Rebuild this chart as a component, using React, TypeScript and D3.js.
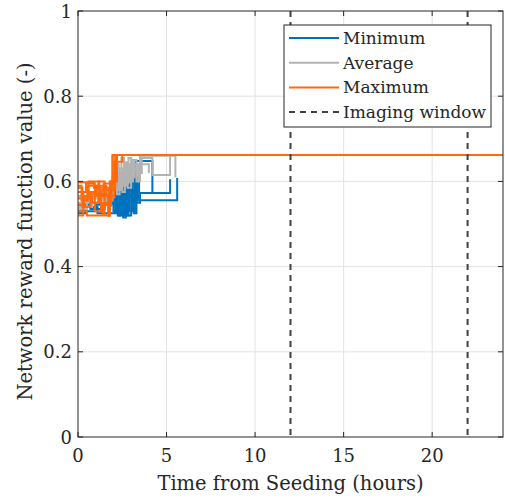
import React from 'react';
import * as d3 from 'd3';

// each run is a list of [hours, value] steps
const minRuns: [number, number][][] = [
  [[0, 0.545], [0.7, 0.535], [1.5, 0.55], [2.0, 0.53], [2.15, 0.6], [2.25, 0.52], [2.4, 0.615], [2.5, 0.525], [2.6, 0.6], [2.75, 0.53], [2.9, 0.62], [3.05, 0.535], [3.2, 0.61], [3.35, 0.55], [3.5, 0.573], [5.2, 0.605]],
  [[0, 0.565], [0.5, 0.55], [1.2, 0.56], [2.0, 0.545], [2.3, 0.52], [2.45, 0.59], [2.55, 0.515], [2.7, 0.61], [2.8, 0.52], [3.0, 0.6], [3.1, 0.53], [3.25, 0.648], [4.2, 0.575]],
  [[0, 0.53], [1.0, 0.545], [1.8, 0.555], [2.2, 0.58], [2.35, 0.53], [2.5, 0.565], [3.4, 0.556], [5.6, 0.608]],
  [[0, 0.525], [0.4, 0.54], [1.1, 0.525], [2.1, 0.56], [2.2, 0.525], [2.35, 0.595], [2.65, 0.52], [2.85, 0.58], [3.15, 0.525], [3.3, 0.6], [3.45, 0.56]],
];
const avgRuns: [number, number][][] = [
  [[0, 0.55], [0.6, 0.56], [1.4, 0.575], [1.9, 0.6], [2.1, 0.64], [2.3, 0.58], [2.45, 0.655], [2.6, 0.59], [2.75, 0.64], [2.9, 0.6], [3.1, 0.65], [3.3, 0.62], [3.6, 0.655], [4.2, 0.655], [4.2, 0.615], [5.2, 0.662]],
  [[0, 0.54], [0.8, 0.55], [1.6, 0.565], [2.0, 0.62], [2.2, 0.57], [2.35, 0.63], [2.5, 0.575], [2.65, 0.645], [2.8, 0.585], [3.0, 0.63], [3.3, 0.6], [3.5, 0.64], [4.0, 0.62]],
  [[0, 0.565], [1.0, 0.58], [1.9, 0.6], [2.2, 0.62], [2.6, 0.6], [3.0, 0.64], [3.5, 0.66], [5.5, 0.61]],
  [[0, 0.535], [0.5, 0.57], [1.3, 0.555], [1.95, 0.61], [2.15, 0.585], [2.4, 0.62], [2.55, 0.595], [2.85, 0.655], [3.0, 0.61], [3.2, 0.64], [3.4, 0.6]],
];
const maxRuns: [number, number][][] = [
  [[0, 0.598], [0.9, 0.585], [1.95, 0.662], [24, 0.662]],
  [[0, 0.52], [0.3, 0.575], [1.0, 0.59], [1.6, 0.565], [2.05, 0.646], [2.5, 0.646], [2.5, 0.662]],
  [[0, 0.56], [0.6, 0.6], [1.2, 0.55], [1.85, 0.58], [2.1, 0.662]],
  [[0, 0.53], [0.5, 0.52], [1.4, 0.545], [1.85, 0.6], [2.2, 0.662]],
  [[0, 0.585], [0.25, 0.54], [0.7, 0.57], [1.7, 0.52], [1.8, 0.6], [1.95, 0.662]],
  [[0, 0.575], [0.45, 0.595], [0.95, 0.53], [1.3, 0.58], [1.75, 0.555], [1.9, 0.6]],
  [[0, 0.545], [0.35, 0.565], [0.8, 0.55], [1.15, 0.6], [1.5, 0.52], [1.8, 0.575]],
  [[0, 0.59], [0.2, 0.555], [0.55, 0.59], [1.05, 0.565], [1.45, 0.595], [1.85, 0.54]],
];
const imagingWindow = [12, 22];
const xTicks = [0, 5, 10, 15, 20];
const yTicks = [0, 0.2, 0.4, 0.6, 0.8, 1];
const legendItems = [
  { label: 'Minimum', color: '#0072BD', dash: null },
  { label: 'Average', color: '#B3B3B3', dash: null },
  { label: 'Maximum', color: '#FF6A0D', dash: null },
  { label: 'Imaging window', color: '#404040', dash: '6,5' },
];

const W = 505;
const H = 499;
const m = { left: 78, right: 503, top: 11, bottom: 437 };
const font = 'DejaVu Serif';

const App = () => {
  const x = d3.scaleLinear().domain([0, 24]).range([m.left, m.right]);
  const y = d3.scaleLinear().domain([0, 1]).range([m.bottom, m.top]);
  const line = d3
    .line<[number, number]>()
    .x((d) => x(d[0]))
    .y((d) => y(d[1]))
    .curve(d3.curveStepAfter);

  const drawRuns = (runs: [number, number][][], color: string) =>
    runs.map((r, i) => (
      // eslint-disable-next-line react/no-array-index-key
      <path key={i} d={line(r) || ''} fill="none" stroke={color} strokeWidth={2} />
    ));

  const axisColor = '#262626';
  const tickLen = 5;

  return (
    <svg width={W} height={H} style={{ position: 'absolute', left: 0, top: 0, background: '#fff' }}>
      <rect x={0} y={0} width={W} height={H} fill="#fff" />
      {/* grid */}
      {xTicks.slice(1).map((t) => (
        <line key={`gx${t}`} x1={x(t)} x2={x(t)} y1={m.top} y2={m.bottom} stroke="#e3e3e3" strokeWidth={1} />
      ))}
      {yTicks.slice(1, -1).map((t) => (
        <line key={`gy${t}`} x1={m.left} x2={m.right} y1={y(t)} y2={y(t)} stroke="#e3e3e3" strokeWidth={1} />
      ))}

      <g clipPath="url(#plotclip)">
        {drawRuns(minRuns, '#0072BD')}
        {drawRuns(avgRuns, '#B3B3B3')}
        {drawRuns(maxRuns, '#FF6A0D')}
        {imagingWindow.map((t) => (
          <line key={`iw${t}`} x1={x(t)} x2={x(t)} y1={m.top} y2={m.bottom} stroke="#404040" strokeWidth={2} strokeDasharray="6,5" />
        ))}
      </g>
      <defs>
        <clipPath id="plotclip">
          <rect x={m.left} y={m.top} width={m.right - m.left} height={m.bottom - m.top} />
        </clipPath>
      </defs>

      {/* axes box and inward ticks */}
      <rect x={m.left} y={m.top} width={m.right - m.left} height={m.bottom - m.top} fill="none" stroke={axisColor} strokeWidth={1} />
      {xTicks.map((t) => (
        <g key={`xt${t}`}>
          <line x1={x(t)} x2={x(t)} y1={m.bottom} y2={m.bottom - tickLen} stroke={axisColor} />
          <line x1={x(t)} x2={x(t)} y1={m.top} y2={m.top + tickLen} stroke={axisColor} />
          <text x={x(t)} y={m.bottom + 18} textAnchor="middle" dominantBaseline="central" fontFamily={font} fontSize={18} fill={axisColor}>
            {t}
          </text>
        </g>
      ))}
      {yTicks.map((t) => (
        <g key={`yt${t}`}>
          <line x1={m.left} x2={m.left + tickLen} y1={y(t)} y2={y(t)} stroke={axisColor} />
          <line x1={m.right} x2={m.right - tickLen} y1={y(t)} y2={y(t)} stroke={axisColor} />
          <text x={m.left - 6} y={y(t)} textAnchor="end" dominantBaseline="central" fontFamily={font} fontSize={18} fill={axisColor}>
            {t}
          </text>
        </g>
      ))}

      <text x={(m.left + m.right) / 2 - 0} y={483} textAnchor="middle" dominantBaseline="central" fontFamily={font} fontSize={19.5} fill={axisColor}>
        Time from Seeding (hours)
      </text>
      <text transform={`translate(25 ${(65 + 398) / 2}) rotate(-90)`} textAnchor="middle" dominantBaseline="central" fontFamily={font} fontSize={19.5} fill={axisColor}>
        Network reward function value (-)
      </text>

      {/* legend */}
      <g>
        <rect x={284} y={25} width={207} height={102} fill="#fff" stroke={axisColor} strokeWidth={1} />
        {legendItems.map((d, i) => {
          const ly = 38 + i * 24.7;
          return (
            <g key={d.label}>
              <line x1={289} x2={339} y1={ly} y2={ly} stroke={d.color} strokeWidth={2} strokeDasharray={d.dash || undefined} />
              <text x={343} y={ly} dominantBaseline="central" fontFamily={font} fontSize={17} fill={axisColor}>
                {d.label}
              </text>
            </g>
          );
        })}
      </g>
    </svg>
  );
};

export default App;
